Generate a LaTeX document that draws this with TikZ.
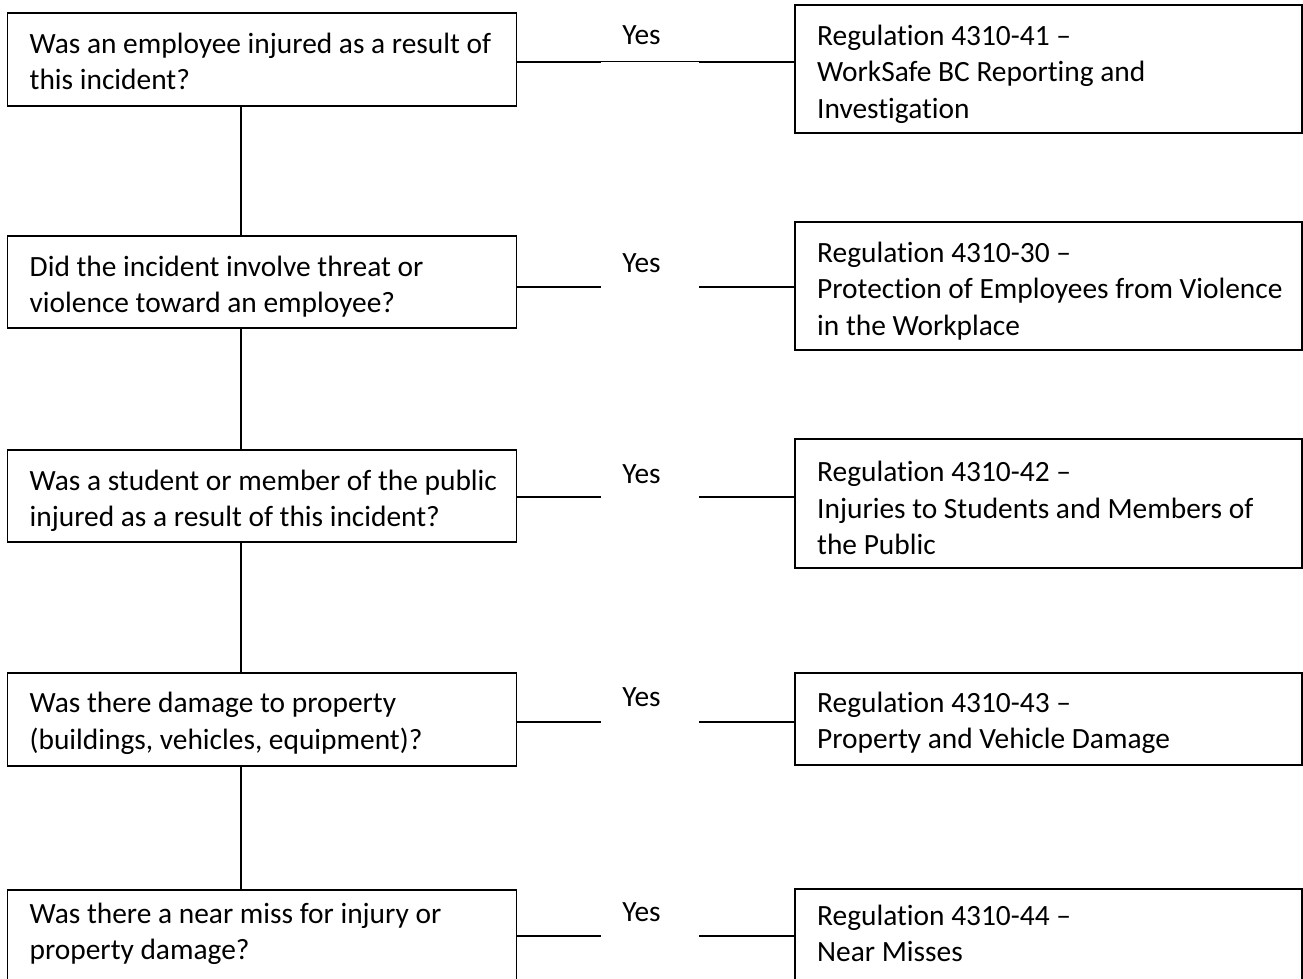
\documentclass[tikz,border=0pt]{standalone}
\usepackage{fontspec}
\setmainfont{Carlito}[Ligatures=NoCommon]
\begin{document}
\begin{tikzpicture}[x=1pt,y=-1pt,
  font=\fontsize{29.4}{36.5}\selectfont,
  boxst/.style={draw=black, line width=1.8pt, anchor=north west, inner sep=0pt, outer sep=0pt},
  qbox/.style={boxst, minimum width=509pt},
  rbox/.style={boxst, minimum width=507pt},
  txt/.style={anchor=base west, inner sep=0pt, text=black},
  yes/.style={anchor=base, inner sep=0pt, text=black},
  conn/.style={draw=black, line width=1.8pt},
  thinconn/.style={draw=black, line width=1.1pt}]
\useasboundingbox (0,0) rectangle (1303,979);
\clip (0,0) rectangle (1303,979);

% question boxes
\node[qbox, minimum height=93pt] (q1) at (7.5,13) {};
\node[qbox, minimum height=92pt] (q2) at (7.5,236) {};
\node[qbox, minimum height=92pt] (q3) at (7.5,450) {};
\node[qbox, minimum height=93pt] (q4) at (7.5,673) {};
\node[qbox, minimum height=110pt] (q5) at (7.5,890) {};

% regulation boxes
\node[rbox, minimum height=128pt] (r1) at (795,5) {};
\node[rbox, minimum height=128pt] (r2) at (795,222) {};
\node[rbox, minimum height=129pt] (r3) at (795,439) {};
\node[rbox, minimum height=92pt] (r4) at (795,673) {};
\node[rbox, minimum height=110pt] (r5) at (795,889) {};

% texts
\node[txt] (tq1) at (29.5,53.5) {\parbox[t]{520pt}{\raggedright Was an employee injured as a result of\\this incident?}};
\node[txt] (tq2) at (29.5,276) {\parbox[t]{520pt}{\raggedright Did the incident involve threat or\\violence toward an employee?}};
\node[txt] (tq3) at (29.5,490) {\parbox[t]{520pt}{\raggedright Was a student or member of the public\\injured as a result of this incident?}};
\node[txt] (tq4) at (29.5,712.5) {\parbox[t]{520pt}{\raggedright Was there damage to property\\(buildings, vehicles, equipment)?}};
\node[txt] (tq5) at (29.5,923) {\parbox[t]{520pt}{\raggedright Was there a near miss for injury or\\property damage?}};

\node[txt] (tr1) at (817,45.5) {\parbox[t]{520pt}{\raggedright Regulation 4310-41 –\\WorkSafe BC Reporting and\\Investigation}};
\node[txt] (tr2) at (817,262) {\parbox[t]{520pt}{\raggedright Regulation 4310-30 –\\Protection of Employees from Violence\\in the Workplace}};
\node[txt] (tr3) at (817,481.5) {\parbox[t]{520pt}{\raggedright Regulation 4310-42 –\\Injuries to Students and Members of\\the Public}};
\node[txt] (tr4) at (817,712) {\parbox[t]{520pt}{\raggedright Regulation 4310-43 –\\Property and Vehicle Damage}};
\node[txt] (tr5) at (817,925) {\parbox[t]{520pt}{\raggedright Regulation 4310-44 –\\Near Misses}};

% Yes labels
\node[yes] (y1) at (641.5,45) {Yes};
\node[yes] (y2) at (641.5,272.5) {Yes};
\node[yes] (y3) at (641.5,483) {Yes};
\node[yes] (y4) at (641.5,706.5) {Yes};
\node[yes] (y5) at (641.5,921) {Yes};

% gap coordinates on the Yes connectors
\coordinate (g1a) at (601,61.7); \coordinate (g1b) at (699,61.7);
\coordinate (g2a) at (601,287);  \coordinate (g2b) at (699,287);
\coordinate (g3a) at (601,497);  \coordinate (g3b) at (699,497);
\coordinate (g4a) at (601,722);  \coordinate (g4b) at (699,722);
\coordinate (g5a) at (601,936);  \coordinate (g5b) at (699,936);

\draw[conn] (q1.east |- g1a) -- (g1a);
\draw[thinconn] (g1a) -- (g1b);
\draw[conn] (g1b) -- (r1.west |- g1b);
\draw[conn] (q2.east |- g2a) -- (g2a);
\draw[conn] (g2b) -- (r2.west |- g2b);
\draw[conn] (q3.east |- g3a) -- (g3a);
\draw[conn] (g3b) -- (r3.west |- g3b);
\draw[conn] (q4.east |- g4a) -- (g4a);
\draw[conn] (g4b) -- (r4.west |- g4b);
\draw[conn] (q5.east |- g5a) -- (g5a);
\draw[conn] (g5b) -- (r5.west |- g5b);

% vertical connectors
\coordinate (vx) at (241,0);
\draw[conn] (q1.south -| vx) -- (q2.north -| vx);
\draw[conn] (q2.south -| vx) -- (q3.north -| vx);
\draw[conn] (q3.south -| vx) -- (q4.north -| vx);
\draw[conn] (q4.south -| vx) -- (q5.north -| vx);
\end{tikzpicture}
\end{document}
